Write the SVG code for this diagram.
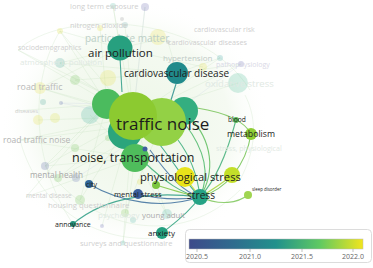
<svg xmlns="http://www.w3.org/2000/svg" width="373" height="268" viewBox="0 0 373 268">
<style>
text{font-family:"Open Sans","Liberation Sans",sans-serif}
.k{fill:#1c1c1c}
.g{fill:#ababab}
.f{fill:#cfcfcf}
.ff{fill:#dfe9e3}
.web line,.web path{stroke:#cfe6c9;stroke-width:0.5;fill:none;opacity:0.7}
.web2 line{stroke:#d4dde8;stroke-width:0.5;opacity:0.7}
.pale{opacity:0.22}
.e{fill:none;stroke-width:1.1;opacity:0.85}
.tick{font-size:7px;fill:#666;text-anchor:middle}
</style>
<defs>
<linearGradient id="vir" x1="0" y1="0" x2="1" y2="0">
<stop offset="0" stop-color="#3d4a8a"/>
<stop offset="0.25" stop-color="#2f6b8e"/>
<stop offset="0.5" stop-color="#21918c"/>
<stop offset="0.75" stop-color="#5ec962"/>
<stop offset="1" stop-color="#f2e51d"/>
</linearGradient>
<radialGradient id="cloud" cx="0.5" cy="0.5" r="0.5">
<stop offset="0" stop-color="#edf6e7"/>
<stop offset="0.7" stop-color="#f5faf2"/>
<stop offset="1" stop-color="#ffffff" stop-opacity="0"/>
</radialGradient>
</defs>
<rect width="373" height="268" fill="#ffffff"/>
<ellipse cx="135" cy="125" rx="135" ry="125" fill="url(#cloud)"/>

<g id="connectors">
<g class="web">
<line x1="120" y1="48" x2="113" y2="6"/><line x1="120" y1="48" x2="60" y2="31"/><line x1="120" y1="48" x2="60" y2="63"/>
<line x1="120" y1="48" x2="40" y2="88"/><line x1="120" y1="48" x2="165" y2="38"/><line x1="120" y1="48" x2="203" y2="67"/>
<line x1="133" y1="117" x2="113" y2="6"/><line x1="133" y1="117" x2="125" y2="25"/><line x1="133" y1="117" x2="60" y2="31"/>
<line x1="133" y1="117" x2="60" y2="63"/><line x1="133" y1="117" x2="18" y2="50"/><line x1="133" y1="117" x2="40" y2="88"/>
<line x1="133" y1="117" x2="38" y2="120"/><line x1="133" y1="117" x2="20" y2="140"/><line x1="133" y1="117" x2="45" y2="166"/>
<line x1="133" y1="117" x2="58" y2="178"/><line x1="133" y1="117" x2="80" y2="200"/><line x1="133" y1="117" x2="102" y2="226"/>
<line x1="133" y1="117" x2="123" y2="243"/><line x1="133" y1="117" x2="167" y2="215"/><line x1="133" y1="117" x2="238" y2="83"/>
<line x1="133" y1="117" x2="241" y2="64"/><line x1="133" y1="117" x2="220" y2="58"/><line x1="133" y1="117" x2="145" y2="7"/>
<line x1="162" y1="122" x2="18" y2="50"/><line x1="162" y1="122" x2="40" y2="88"/><line x1="162" y1="122" x2="20" y2="140"/>
<line x1="162" y1="122" x2="58" y2="178"/><line x1="162" y1="122" x2="125" y2="213"/><line x1="162" y1="122" x2="75" y2="80"/>
<line x1="107" y1="104" x2="60" y2="31"/><line x1="107" y1="104" x2="15" y2="111"/><line x1="107" y1="104" x2="45" y2="166"/>
<line x1="107" y1="104" x2="26" y2="197"/><line x1="107" y1="104" x2="80" y2="200"/><line x1="107" y1="104" x2="100" y2="28"/>
<line x1="135" y1="158" x2="20" y2="140"/><line x1="135" y1="158" x2="26" y2="197"/><line x1="135" y1="158" x2="45" y2="166"/>
<line x1="135" y1="158" x2="123" y2="243"/><line x1="135" y1="158" x2="167" y2="215"/><line x1="135" y1="158" x2="90" y2="115"/>
<line x1="177" y1="73" x2="220" y2="58"/><line x1="177" y1="73" x2="241" y2="64"/><line x1="177" y1="73" x2="168" y2="42"/>
<line x1="177" y1="73" x2="60" y2="63"/><line x1="177" y1="73" x2="75" y2="80"/>
<path d="M45,166 C90,230 180,250 240,190"/>
<path d="M18,50 C60,10 200,10 250,90"/>
<path d="M20,140 C40,215 110,250 175,235"/>
<path d="M245,95 C258,120 256,150 240,180"/>
<path d="M60,31 C30,80 30,160 73,224"/>
</g>
<g class="web2">
<line x1="133" y1="117" x2="61" y2="103"/><line x1="133" y1="117" x2="145" y2="7"/><line x1="162" y1="122" x2="76" y2="178"/>
<line x1="162" y1="122" x2="241" y2="64"/><line x1="107" y1="104" x2="61" y2="103"/>
</g>
<path class="e" d="M120,58 L122,92" stroke="#2a9b86"/>
<path class="e" d="M176,84 L171,100" stroke="#2a8f8c"/>
<path class="e" d="M185,124 C205,150 210,175 200,197" stroke="#4cb86a"/>
<path class="e" d="M178,140 C193,160 198,180 200,197" stroke="#3aab7a"/>
<path class="e" d="M190,118 C212,140 216,172 200,197" stroke="#5cbd5c"/>
<path class="e" d="M160,145 C178,168 188,186 200,197" stroke="#2ea283"/>
<path class="e" d="M150,150 C170,178 184,192 200,197" stroke="#4070a0"/>
<path class="e" d="M142,160 C165,182 182,194 200,197" stroke="#3aad74"/>
<path class="e" d="M197,108 C222,112 244,120 251,134" stroke="#79c45a" opacity="0.6"/>
<path class="e" d="M251,134 C246,165 226,190 200,197" stroke="#6fc24f"/>
<path class="e" d="M236,120 C228,150 216,180 200,197" stroke="#3fae78"/>
<path class="e" d="M200,197 C220,206 238,203 248,195" stroke="#7ec75a"/>
<path class="e" d="M89,184 C120,202 162,210 200,197" stroke="#3b6d9c"/>
<path class="e" d="M73,224 C108,194 160,192 200,197" stroke="#2b9c84"/>
<path class="e" d="M200,197 C188,214 172,225 162,233" stroke="#2aa07e"/>
<path class="e" d="M138,194 Q170,202 200,197" stroke="#3d6a9e"/>
<path class="e" d="M200,197 C212,190 224,182 232,175" stroke="#a6d438"/>
<path class="e" d="M156,185 C172,190 188,195 200,197" stroke="#7cc63f"/>
<path class="e" d="M185,177 C190,184 195,190 200,197" stroke="#c6dc2a"/>
</g>

<g id="faded-nodes" class="pale">
<circle cx="113" cy="6" r="3" fill="#4cb8a0"/><circle cx="145" cy="7" r="4" fill="#5a5aa8"/>
<circle cx="122" cy="19" r="2" fill="#888"/><circle cx="125" cy="25" r="3" fill="#60a0a0"/>
<circle cx="100" cy="28" r="3" fill="#e8e020"/><circle cx="60" cy="31" r="3" fill="#e0e030"/>
<circle cx="158" cy="37" r="8" fill="#e8e040"/><circle cx="168" cy="42" r="2" fill="#888"/>
<circle cx="60" cy="63" r="5" fill="#3aa090"/><circle cx="75" cy="80" r="5" fill="#6cc050"/>
<circle cx="108" cy="78" r="8" fill="#e8e040"/><circle cx="40" cy="88" r="6" fill="#e8e040"/>
<circle cx="43" cy="102" r="3" fill="#3aa090"/><circle cx="61" cy="103" r="2" fill="#4a5aa0"/>
<circle cx="38" cy="120" r="5" fill="#e8e040"/><circle cx="55" cy="118" r="5" fill="#e0e040"/>
<circle cx="90" cy="115" r="9" fill="#40b0a0"/><circle cx="75" cy="148" r="4" fill="#6cc050"/>
<circle cx="45" cy="166" r="4" fill="#4a5aa0"/><circle cx="76" cy="178" r="4" fill="#5a6ab0"/>
<circle cx="58" cy="178" r="4" fill="#6cc050"/><circle cx="80" cy="200" r="5" fill="#6cc050"/>
<circle cx="102" cy="226" r="2" fill="#5a5ab0"/><circle cx="125" cy="213" r="4" fill="#7cc850"/>
<circle cx="133" cy="220" r="3" fill="#40b0a0"/><circle cx="167" cy="214" r="5" fill="#40b0a0"/>
<circle cx="123" cy="243" r="2.5" fill="#40b0a0"/><circle cx="220" cy="58" r="3" fill="#30a0a0"/>
<circle cx="241" cy="64" r="3" fill="#5a5ab0"/><circle cx="203" cy="67" r="4" fill="#e8e040"/>
<circle cx="238" cy="83" r="10" fill="#40b890"/><circle cx="100" cy="160" r="3" fill="#e8e040"/>
<circle cx="108" cy="138" r="3" fill="#6cc050"/><circle cx="140" cy="182" r="3" fill="#e8e040"/>
</g>

<g id="faded-labels">
<text class="f" x="70" y="9" font-size="7.5">long term exposure</text>
<text class="f" x="70" y="28" font-size="7.5">nitrogen dioxide</text>
<text x="85" y="42" font-size="10" fill="#bccfc7">particulate matter</text>
<text class="f" x="194" y="32" font-size="7">cardiovascular risk</text>
<text class="f" x="168" y="45" font-size="7.2">cardiovascular diseases</text>
<text class="f" x="18" y="50" font-size="7">sociodemographics</text>
<text x="163" y="61" font-size="8" fill="#bfcac6">hypertension</text>
<text class="ff" x="20" y="65" font-size="8">atmospheric pollution</text>
<text x="216" y="67" font-size="7" fill="#d9d9e6">pathophysiology</text>
<text class="ff" x="205" y="87" font-size="9.5">oxidative stress</text>
<text x="17" y="90" font-size="8.8" fill="#b9b9b9">road traffic</text>
<text class="f" x="15" y="113" font-size="5.8">diseases</text>
<text x="3" y="143" font-size="8.5" fill="#b3b3b3">road traffic noise</text>
<text class="ff" x="216" y="151" font-size="7.1">stress, physiological</text>
<text x="30" y="178" font-size="8.2" fill="#a8a8a8">mental health</text>
<text class="f" x="26" y="198" font-size="6.5">mental disease</text>
<text class="f" x="48" y="208" font-size="7.8">housing questionnaire</text>
<text class="ff" x="98" y="218" font-size="8">psychology</text>
<text x="142" y="218" font-size="7.8" fill="#ababab">young adult</text>
<text class="f" x="80" y="246" font-size="7.5">surveys and questionnaire</text>
</g>

<g id="n-air-pollution"><circle cx="120" cy="48" r="12.5" fill="#27a07f"/><text class="k" x="88" y="57" font-size="11.5">air pollution</text></g>
<g id="n-cardiovascular-disease"><circle cx="177" cy="73" r="11" fill="#208a8b"/><text class="k" x="124" y="77" font-size="10">cardiovascular disease</text></g>
<g id="n-urban"><circle cx="125" cy="132" r="17" fill="#2ba57c"/></g>
<g id="n-noise"><circle cx="107" cy="104" r="15" fill="#4bbb5e"/></g>
<g id="n-health"><circle cx="184" cy="111" r="14" fill="#34ae80"/></g>
<g id="n-noise-transportation"><circle cx="135" cy="158" r="14" fill="#4fbd5c"/></g>
<g id="n-exposure"><circle cx="162" cy="122" r="24" fill="#93d145"/></g>
<g id="n-traffic-noise"><circle cx="133" cy="116" r="24" fill="#8cca30"/><circle cx="145" cy="149" r="2.5" fill="#3d5f9e"/><text class="k" x="116" y="130" font-size="17">traffic noise</text></g>
<g id="n-noise-transportation-label"><text class="k" x="72" y="162" font-size="12.5">noise, transportation</text></g>
<g id="n-blood"><circle cx="236" cy="120" r="3" fill="#5bba58"/><text class="k" x="228" y="122" font-size="6.7">blood</text></g>
<g id="n-metabolism"><circle cx="251" cy="134" r="6" fill="#8fcd35"/><text class="k" x="227" y="137" font-size="8.7">metabolism</text></g>
<g id="n-ecology"><circle cx="232" cy="175" r="8" fill="#c3df2a"/></g>
<g id="n-human"><circle cx="156" cy="185" r="4" fill="#7cc63f"/></g>
<g id="n-physiological-stress"><circle cx="185" cy="177" r="10" fill="#e8e31a"/><text class="k" x="140" y="181" font-size="11.2">physiological stress</text></g>
<g id="n-stress"><circle cx="200" cy="197" r="8" fill="#25a385"/><text class="k" x="187" y="199" font-size="10.2">stress</text></g>
<g id="n-sleep-disorder"><circle cx="248" cy="195" r="4" fill="#a0d551"/><text class="k" x="252" y="191" font-size="4.4">sleep disorder</text></g>
<g id="n-city"><circle cx="89" cy="184" r="4" fill="#30689b"/><text class="k" x="86" y="187" font-size="7">city</text></g>
<g id="n-mental-stress"><circle cx="138" cy="194" r="5" fill="#3b5e9c"/><text class="k" x="114" y="197" font-size="7.6">mental stress</text></g>
<g id="n-annoyance"><circle cx="73" cy="224" r="3" fill="#23917a"/><text class="k" x="55" y="227" font-size="7">annoyance</text></g>
<g id="n-anxiety"><circle cx="162" cy="233" r="6" fill="#24a07f"/><text class="k" x="148" y="236" font-size="8">anxiety</text></g>

<g id="legend">
<rect x="185.5" y="229.5" width="186" height="33" rx="4" fill="#ffffff" stroke="#dcdcdc"/>
<rect x="189" y="239" width="174" height="10" fill="url(#vir)" stroke="#bbbbbb" stroke-width="0.5"/>
<g stroke="#999" stroke-width="0.6">
<line x1="197" y1="249" x2="197" y2="252"/><line x1="250" y1="249" x2="250" y2="252"/>
<line x1="302" y1="249" x2="302" y2="252"/><line x1="353" y1="249" x2="353" y2="252"/>
</g>
<text class="tick" x="197" y="259">2020.5</text>
<text class="tick" x="250" y="259">2021.0</text>
<text class="tick" x="302" y="259">2021.5</text>
<text class="tick" x="353" y="259">2022.0</text>
</g>
</svg>
